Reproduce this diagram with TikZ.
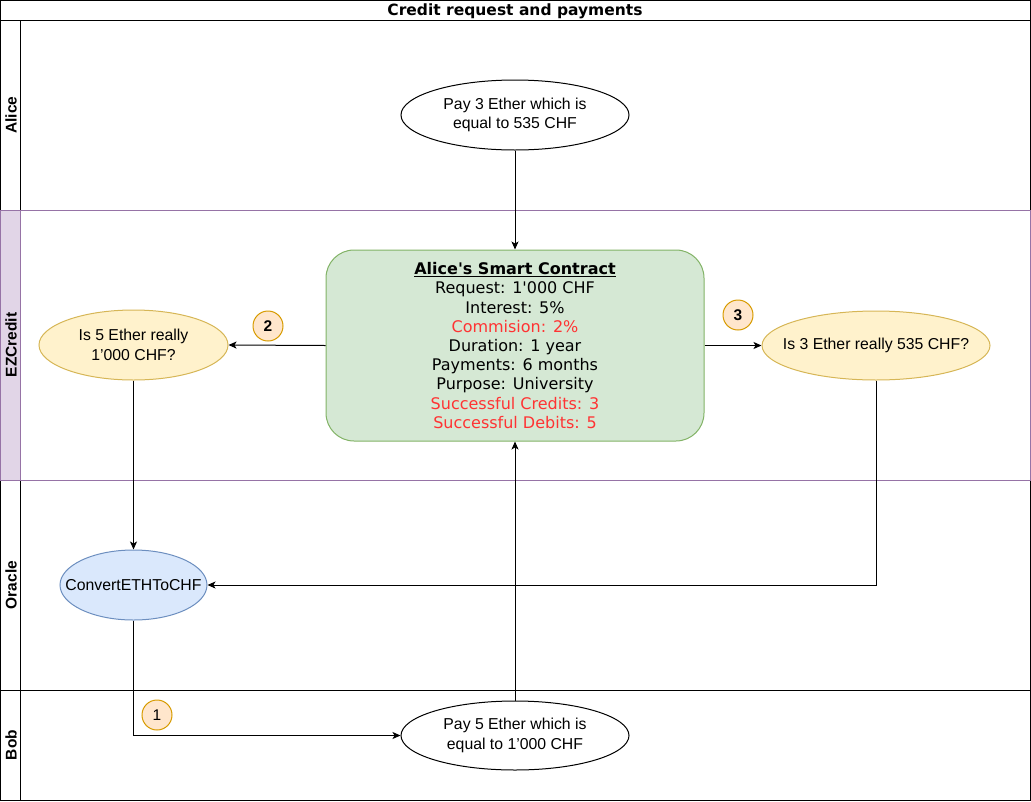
\documentclass[tikz,border=0pt]{standalone}
\usepackage{fontspec}
\setmainfont{Liberation Sans}
\newfontfamily\verdfont{DejaVu Sans}
\usepackage{xcolor}
\usetikzlibrary{arrows.meta,shapes.geometric}

\definecolor{greenfill}{HTML}{D5E8D4}
\definecolor{greenline}{HTML}{82B366}
\definecolor{yellowfill}{HTML}{FFF2CC}
\definecolor{yellowline}{HTML}{D6B656}
\definecolor{bluefill}{HTML}{DAE8FC}
\definecolor{blueline}{HTML}{6C8EBF}
\definecolor{badgefill}{HTML}{FFE6CC}
\definecolor{badgeline}{HTML}{D79B00}
\definecolor{lanefill}{HTML}{E1D5E7}
\definecolor{laneline}{HTML}{9673A6}
\definecolor{alert}{HTML}{FF3333}

\begin{document}
\begin{tikzpicture}[x=1pt, y=-1pt, line width=1pt, >={Stealth[length=8pt,width=7pt,inset=2pt]},
  oval/.style={draw, ellipse, inner xsep=-30pt, inner ysep=0pt, align=center, font=\fontsize{15.8}{19.5}\selectfont},
  contractbox/.style={draw=greenline, fill=greenfill, rounded corners=28pt, minimum width=378pt, minimum height=191pt, align=center, font=\verdfont\fontsize{16}{19.2}\selectfont},
  badge/.style={draw=badgeline, fill=badgefill, circle, minimum size=30pt, inner sep=0pt, font=\fontsize{15.5}{18}\selectfont},
  lanelabel/.style={rotate=90, font=\bfseries\fontsize{15.5}{18}\selectfont}]
\useasboundingbox (0,0) rectangle (1031,801);
% pool and lanes
\draw (0,0) rectangle (1030,800);
\draw (0,20) -- (1030,20);
\node[font=\verdfont\bfseries\fontsize{15.5}{18}\selectfont] (title) at (515,12.5) {\underline{Credit request and payments}};
\draw (0,20) rectangle (1030,210);
\draw (20,20) -- (20,210);
\draw (0,480) rectangle (1030,690);
\draw (20,480) -- (20,690);
\draw (0,690) rectangle (1030,800);
\draw (20,690) -- (20,800);
\filldraw[fill=lanefill, draw=laneline] (0,210) rectangle (20,480);
\draw[laneline] (0,210) rectangle (1030,480);
\node[lanelabel] (lalice) at (11,115) {Alice};
\node[lanelabel] (lezcredit) at (11,345) {EZCredit};
\node[lanelabel] (loracle) at (11,585) {Oracle};
\node[lanelabel] (lbob) at (11,745) {Bob};
% shapes
\node[oval, minimum width=228pt, minimum height=70pt] (payalice) at (515,115) {Pay 3 Ether which is\\equal to 535 CHF};
\node[contractbox] (contract) at (515,345.5) {\textbf{\underline{Alice's Smart Contract}}\\Request: 1'000 CHF\\Interest: 5\%\\\textcolor{alert}{Commision: 2\%}\\Duration: 1 year\\Payments: 6 months\\Purpose: University\\\textcolor{alert}{Successful Credits: 3}\\\textcolor{alert}{Successful Debits: 5}};
\node[oval, draw=yellowline, fill=yellowfill, minimum width=189pt, minimum height=70pt] (check5) at (133.5,345) {Is 5 Ether really\\1'000 CHF?};
\node[oval, draw=yellowline, fill=yellowfill, minimum width=228pt, minimum height=69pt] (check3) at (876,345.5) {Is 3 Ether really 535 CHF?};
\node[oval, draw=blueline, fill=bluefill, minimum width=147pt, minimum height=70pt] (convert) at (133.5,585) {ConvertETHToCHF};
\node[oval, minimum width=228pt, minimum height=69pt] (paybob) at (515,735.5) {Pay 5 Ether which is\\equal to 1'000 CHF};
\node[badge, font=\bfseries\fontsize{15.5}{18}\selectfont] (two) at (268,326) {2};
\node[badge, font=\bfseries\fontsize{15.5}{18}\selectfont] (three) at (738,315) {3};
\node[badge] (one) at (157,715) {1};
% connectors
\draw[->] (payalice) -- (contract);
\draw[->] (contract.west) -- (check5.east);
\draw[->] (contract.east) -- (check3.west);
\draw[->] (check5) -- (convert);
\draw[->] (check3.south) |- (convert.east);
\draw[->] (convert.south) |- (paybob.west);
\draw[->] (paybob) -- (contract);
\end{tikzpicture}
\end{document}
